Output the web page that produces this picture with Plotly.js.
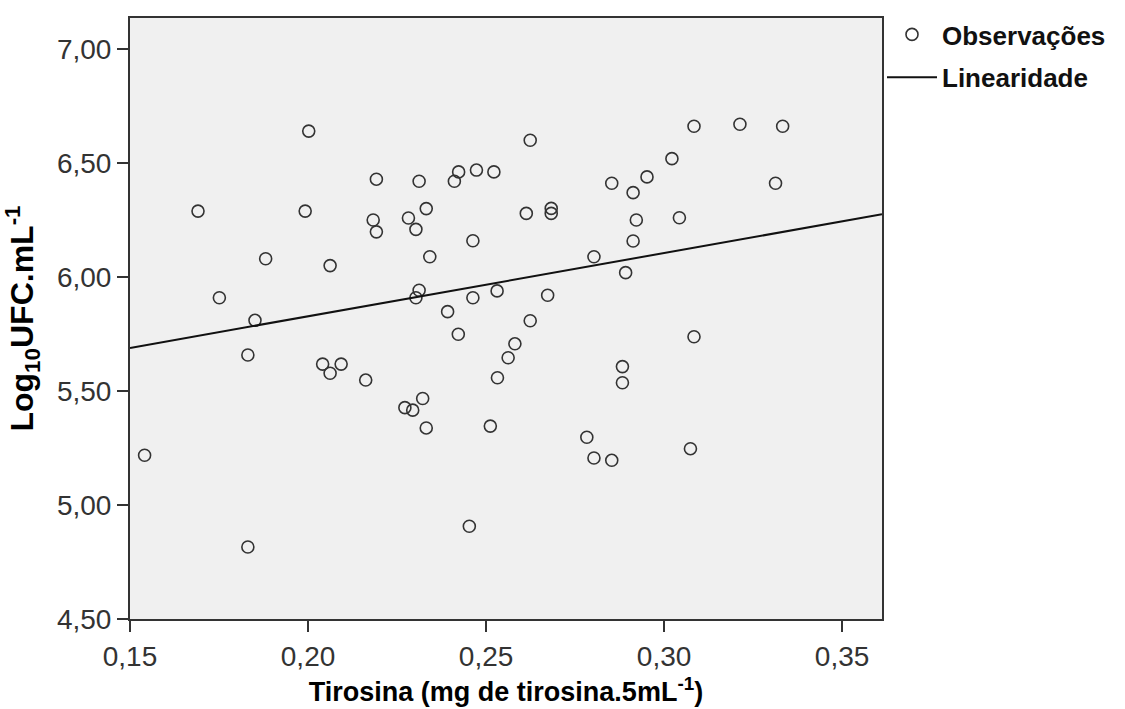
<!DOCTYPE html>
<html>
<head>
<meta charset="utf-8">
<script src="https://cdn.plot.ly/plotly-3.0.1.min.js"></script>
<style>html,body{margin:0;padding:0;background:#fff;}#chart{width:1125px;height:709px;}</style>
</head>
<body>
<div id="chart"></div>
<script>
// Observations: tyrosine (mg de tirosina.5mL-1) vs log10 UFC.mL-1
const tirosina = [
  0.1541, 0.1691, 0.1751, 0.1831, 0.1831, 0.1851, 0.1881, 0.2002, 0.1992, 0.2041,
  0.2062, 0.2062, 0.2093, 0.2162, 0.2183, 0.2192, 0.2192, 0.2272, 0.2294, 0.2282,
  0.2303, 0.2303, 0.2312, 0.2312, 0.2322, 0.2332, 0.2332, 0.2342, 0.2392, 0.2411,
  0.2423, 0.2422, 0.2453, 0.2463, 0.2463, 0.2473, 0.2512, 0.2522, 0.2532, 0.2531,
  0.2562, 0.2581, 0.2613, 0.2624, 0.2624, 0.2673, 0.2683, 0.2683, 0.2783, 0.2803,
  0.2803, 0.2853, 0.2853, 0.2883, 0.2883, 0.2892, 0.2913, 0.2913, 0.2922, 0.2952,
  0.3022, 0.3043, 0.3074, 0.3084, 0.3084, 0.3213, 0.3313, 0.3333
];
const logUFC = [
  5.218, 6.289, 5.909, 4.816, 5.658, 5.810, 6.080, 6.640, 6.289, 5.618,
  5.578, 6.050, 5.618, 5.548, 6.250, 6.429, 6.198, 5.427, 5.416, 6.259,
  6.209, 5.909, 5.942, 6.420, 5.467, 5.338, 6.300, 6.089, 5.848, 6.420,
  6.461, 5.749, 4.907, 6.159, 5.909, 6.469, 5.346, 6.461, 5.558, 5.939,
  5.646, 5.707, 6.279, 6.600, 5.808, 5.920, 6.301, 6.279, 5.297, 5.206,
  6.089, 6.411, 5.196, 5.607, 5.536, 6.019, 6.370, 6.158, 6.250, 6.439,
  6.519, 6.260, 5.247, 6.661, 5.738, 6.670, 6.411, 6.661
];
// Fitted line (linearidade) end points
const lineX = [0.15, 0.3612];
const lineY = [5.689, 6.275];

const xTicks = [0.15, 0.20, 0.25, 0.30, 0.35];
const yTicks = [4.50, 5.00, 5.50, 6.00, 6.50, 7.00];

const FONT = 'Liberation Sans, Arial, sans-serif';

const traces = [
  {
    x: tirosina, y: logUFC, type: 'scatter', mode: 'markers', name: 'Observações',
    marker: {symbol: 'circle-open', size: 12, color: '#333', line: {width: 1.6, color: '#333'}},
    legendgroup: 'a'
  },
  {
    x: lineX, y: lineY, type: 'scatter', mode: 'lines', name: 'Linearidade',
    line: {color: '#111', width: 2},
    legendgroup: 'b'
  }
];

const layout = {
  width: 1125, height: 709,
  margin: {l: 130, r: 243, t: 17, b: 90},
  paper_bgcolor: '#ffffff',
  plot_bgcolor: '#f0f0f0',
  separators: ',.',
  font: {family: FONT, color: '#333'},
  showlegend: true,
  legend: {
    x: 1.0, xanchor: 'left',
    y: 1.01, yanchor: 'top', itemwidth: 50,
    font: {family: FONT, size: 26, color: '#111', weight: 'bold'},
    bgcolor: 'rgba(0,0,0,0)', traceorder: 'grouped', tracegroupgap: 6
  },
  xaxis: {
    range: [0.15, 0.3612], tickvals: xTicks, tickformat: '.2f',
    ticks: 'outside', ticklen: 11, tickwidth: 2, tickcolor: '#333',
    showline: true, linecolor: '#333', linewidth: 2, mirror: true,
    showgrid: false, zeroline: false,
    tickfont: {family: FONT, size: 28, color: '#333'},
    title: {text: 'Tirosina (mg de tirosina.5mL<sup>-1</sup>)', standoff: 12,
            font: {family: FONT, size: 27, color: '#000', weight: 'bold'}}
  },
  yaxis: {
    range: [4.50, 7.136], tickvals: yTicks, tickformat: '.2f',
    ticks: 'outside', ticklen: 11, tickwidth: 2, tickcolor: '#333',
    showline: true, linecolor: '#333', linewidth: 2, mirror: true,
    showgrid: false, zeroline: false,
    tickfont: {family: FONT, size: 28, color: '#333'},
    title: {text: 'Log<sub>10</sub>UFC.mL<sup>-1</sup>', standoff: 18,
            font: {family: FONT, size: 32, color: '#000', weight: 'bold'}}
  }
};

Plotly.newPlot('chart', traces, layout, {displayModeBar: false, staticPlot: true});
</script>
</body>
</html>
